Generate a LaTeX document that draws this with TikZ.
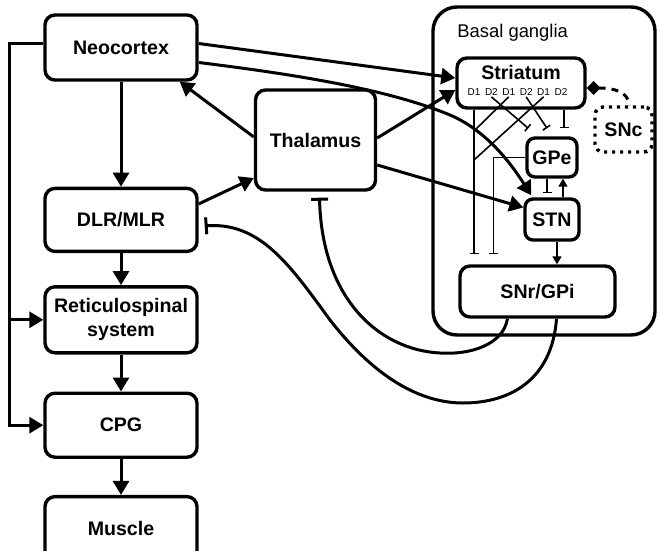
\documentclass[tikz,border=0pt]{standalone}
\usepackage{fontspec}
\setmainfont{Liberation Sans}
\usetikzlibrary{arrows.meta,positioning}

\begin{document}
\begin{tikzpicture}[
    x=0.5pt, y=-0.5pt,
    box/.style={rectangle, draw, rounded corners=5pt, line width=1.7pt, minimum width=76pt, minimum height=32.5pt, inner xsep=2pt, align=center, font=\fontsize{9.8}{12}\selectfont\bfseries},
    sbox/.style={box, rounded corners=4pt, inner sep=1pt},
    dlab/.style={inner sep=0.5pt, font=\fontsize{5}{5}\selectfont},
    arrow/.style={-{Triangle[length=7pt, width=8pt]}, line width=1.5pt},
    inh/.style={-{Bar[width=8.5pt]}, line width=1.5pt},
    fine/.style={line width=0.8pt},
    finearrow/.style={fine, -{Triangle[length=4pt, width=4.5pt]}},
    fineinh/.style={fine, -{Bar[width=4.5pt]}}
]
    \useasboundingbox (0,0) rectangle (658,551);

    \node[draw, rounded corners=12pt, line width=1.7pt, minimum width=111pt, minimum height=164pt] (bg) at (544,171) {};
    \node[anchor=base west, inner sep=0pt, font=\fontsize{9.2}{11}\selectfont] (bglab) at (457,38) {Basal ganglia};

    \node[box] (neo) at (121,47.5) {Neocortex};
    \node[box, minimum height=31.5pt, below=52.5pt of neo] (dlr) {DLR/MLR};
    \node[box, minimum height=33pt, below=16pt of dlr] (ret) {Reticulospinal\\system};
    \node[box, minimum height=32pt, below=18.5pt of ret] (cpg) {CPG};
    \node[box, minimum height=32pt, below=18pt of cpg] (mus) {Muscle};

    \node[box, minimum width=60pt, minimum height=50pt] (thal) at (315.5,140) {Thalamus};
    \node[box, minimum width=64pt, minimum height=25pt, text depth=11pt] (str) at (521,83) {Striatum};
    \foreach \lab [count=\i] in {D1,D2,D1,D2,D1,D2}
        \node[dlab] (rec\i) at ({456.6+17.4*\i},92) {\lab};
    \node[sbox, minimum width=25pt, minimum height=19.5pt] (gpe) at (552,157.5) {GPe};
    \node[sbox, minimum width=27pt, minimum height=20.5pt] (stn) at (552,219.5) {STN};
    \node[box, minimum width=77.5pt, minimum height=25.5pt] (snr) at (537.5,291.5) {SNr/GPi};
    \node[sbox, dash pattern=on 1.6pt off 2.4pt, minimum width=28.5pt, minimum height=22.5pt] (snc) at (623.5,129.5) {SNc};

    \coordinate (bustop) at (9,43.5);
    \coordinate (j1) at (474,131);
    \coordinate (j2) at (474,160);

    \draw[arrow] (neo) -- (dlr);
    \draw[arrow] (dlr) -- (ret);
    \draw[arrow] (ret) -- (cpg);
    \draw[arrow] (cpg) -- (mus);
    \draw[arrow] ([yshift=2pt]neo.west) -- (bustop) |- (cpg.west);
    \draw[arrow] (bustop |- ret.west) -- (ret.west);

    \draw[arrow] ([yshift=2pt]neo.east) -- ([yshift=2.5pt]str.west);
    \draw[arrow] ([yshift=-7.5pt]neo.east) .. controls (300,75) and (390,90) .. (450,115)
        .. controls (490,132) and (515,170) .. ([xshift=4pt,yshift=1pt]stn.north west);
    \draw[arrow] ([yshift=1.5pt]thal.west) -- ([xshift=-9.5pt]neo.south east);
    \draw[arrow] ([yshift=8pt]dlr.east) -- ([yshift=-19pt]thal.west);
    \draw[arrow] ([yshift=1pt]thal.east) -- ([yshift=-3.5pt]str.west);
    \draw[arrow] ([yshift=-12.5pt]thal.east) -- ([yshift=6pt]stn.west);

    \draw[inh] ([xshift=-15pt]snr.south) .. controls (503,345) and (470,355) .. (440,353)
        .. controls (380,350) and (322,300) .. ([xshift=2pt,yshift=-3pt]thal.south);
    \draw[inh] ([xshift=9.5pt]snr.south) .. controls (552,380) and (510,403) .. (463,403)
        .. controls (400,403) and (352,348) .. (330,320)
        .. controls (290,265) and (260,222) .. ([xshift=3pt,yshift=-3pt]dlr.east);

    \draw[fineinh] (rec1 |- str.south) -- ([yshift=5pt]rec1 |- snr.north);
    \draw[fineinh] (rec2.south) -- ([xshift=1.5pt,yshift=4pt]gpe.north west);
    \draw[fine] (rec3.south) -- (j1);
    \draw[fineinh] (rec4.south) -- ([xshift=-2.5pt,yshift=4pt]gpe.north);
    \draw[fine] (rec5.south) -- (j2);
    \draw[fineinh] ([xshift=1.5pt]rec6.center |- str.south) -- ([xshift=1.5pt,yshift=4pt]rec6.center |- gpe.north);
    \draw[fineinh] (gpe.west) -| ([xshift=-16pt,yshift=5pt]gpe.west |- snr.north);
    \draw[fineinh] ([xshift=-2.5pt]gpe.south) -- ([xshift=-2.5pt,yshift=2pt]stn.north);
    \draw[finearrow] ([xshift=5.5pt]stn.north) -- ([xshift=5.5pt]gpe.south);
    \draw[finearrow] ([xshift=2.5pt]stn.south) -- ([xshift=2.5pt]stn.south |- snr.north);

    \draw[line width=1.5pt, dash pattern=on 3.5pt off 3pt, {Diamond[length=7pt, width=7pt]}-] ([yshift=-2.5pt]str.east)
        .. controls (615,88) and (628,92) .. ([xshift=3pt]snc.north);
\end{tikzpicture}
\end{document}
